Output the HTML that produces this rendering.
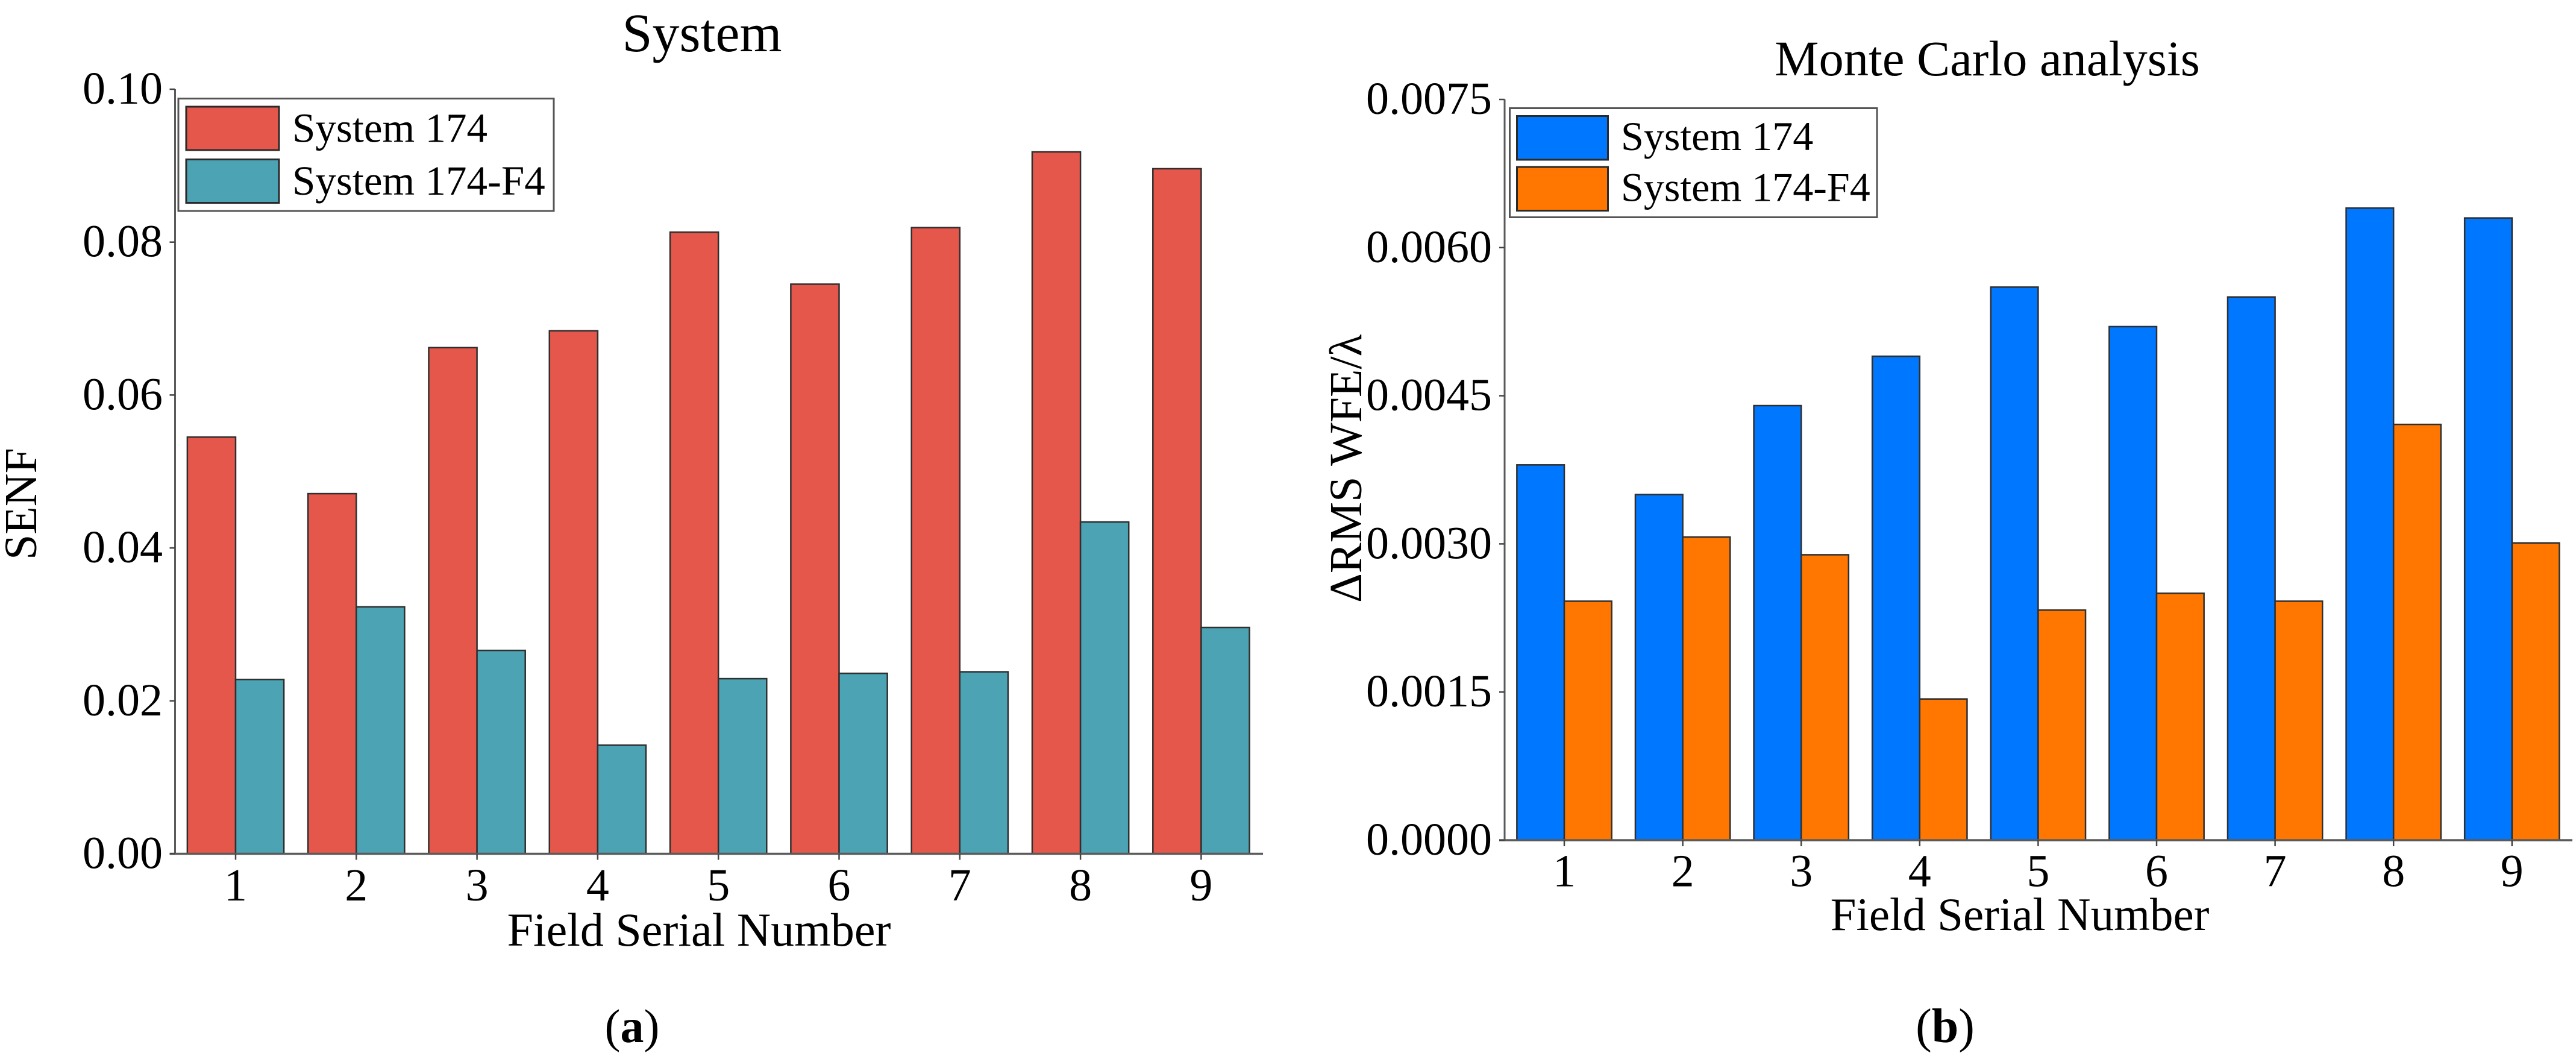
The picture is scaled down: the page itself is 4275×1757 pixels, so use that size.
<!DOCTYPE html>
<html lang="en">
<head>
<meta charset="utf-8">
<title>System and Monte Carlo analysis bar charts</title>
<style>
html,body{margin:0;padding:0;background:#fff;width:4275px;height:1757px;overflow:hidden}
svg{display:block}
text{font-family:"Liberation Serif","Times New Roman",serif;fill:#000}
</style>
</head>
<body>
<svg id="figure" xmlns="http://www.w3.org/2000/svg" width="4275" height="1757" viewBox="0 0 4275 1757">
  <rect x="0" y="0" width="4275" height="1757" fill="#ffffff"/>

  <g id="chart-a">
    <text x="1165" y="85" font-size="90" text-anchor="middle">System</text>
    <text transform="translate(60,836) rotate(-90)" font-size="76" text-anchor="middle">SENF</text>
    <text x="1160" y="1569" font-size="78" text-anchor="middle">Field Serial Number</text>
  </g>
  <text x="1049" y="1729" font-size="78" text-anchor="middle">(<tspan font-weight="bold">a</tspan>)</text>

  <g id="chart-b">
    <text x="3298" y="125" font-size="82.5" text-anchor="middle">Monte Carlo analysis</text>
    <text transform="translate(2259,1000) rotate(-90)" font-size="76" text-anchor="start">ΔRMS WFE/λ</text>
    <text x="3352" y="1543" font-size="77" text-anchor="middle">Field Serial Number</text>
  </g>
  <text x="3228" y="1729" font-size="80" text-anchor="middle">(<tspan font-weight="bold">b</tspan>)</text>
</svg>

<script>
// Shared categories
const fieldNumbers = ['1', '2', '3', '4', '5', '6', '7', '8', '9'];

// Chart (a): SENF
const senfTickValues = [0, 0.02, 0.04, 0.06, 0.08, 0.10];
const senfTickLabels = ['0.00', '0.02', '0.04', '0.06', '0.08', '0.10'];
const senfSystem174 = [0.0545, 0.0471, 0.0662, 0.0684, 0.0813, 0.0745, 0.0819, 0.0918, 0.0896];
const senfSystem174F4 = [0.0228, 0.0323, 0.0266, 0.0142, 0.0229, 0.0236, 0.0238, 0.0434, 0.0296];

// Chart (b): delta RMS WFE
const wfeTickValues = [0, 0.0015, 0.0030, 0.0045, 0.0060, 0.0075];
const wfeTickLabels = ['0.0000', '0.0015', '0.0030', '0.0045', '0.0060', '0.0075'];
const wfeSystem174 = [0.0038, 0.0035, 0.0044, 0.0049, 0.0056, 0.0052, 0.0055, 0.0064, 0.0063];
const wfeSystem174F4 = [0.00242, 0.00307, 0.00289, 0.00143, 0.00233, 0.0025, 0.00242, 0.00421, 0.00301];

const legendLabels = ['System 174', 'System 174-F4'];

const SVG_NS = 'http://www.w3.org/2000/svg';

function makeEl(parent, tag, name, attrs, text) {
  const el = document.createElementNS(SVG_NS, tag);
  
  
  for (const key in attrs) { el.setAttribute(key, attrs[key]); }
  if (text !== undefined) { el.textContent = text; }
  parent.appendChild(el);
  return el;
}

function drawBarChart(group, prefix, o) {
  const xScale = function (i) { return o.firstTickX + i * o.stepX; };
  const yScale = function (v) { return o.baseY - (v / o.maxValue) * (o.baseY - o.topY); };
  const barWidth = o.stepX * 0.4;

  // Bars
  fieldNumbers.forEach(function (field, i) {
    const tick = xScale(i);
    const y1 = yScale(o.seriesA[i]);
    const y2 = yScale(o.seriesB[i]);
    makeEl(group, 'rect', prefix + '-bar-system-174-field-' + field, {
      x: tick - barWidth, y: y1, width: barWidth, height: o.baseY - y1,
      fill: o.colorA, stroke: '#2f2f2f', 'stroke-width': 2.5
    });
    makeEl(group, 'rect', prefix + '-bar-system-174-f4-field-' + field, {
      x: tick, y: y2, width: barWidth, height: o.baseY - y2,
      fill: o.colorB, stroke: '#2f2f2f', 'stroke-width': 2.5
    });
  });

  // Axes
  makeEl(group, 'line', prefix + '-y-axis-line', {
    x1: o.axisX, x2: o.axisX, y1: o.topY, y2: o.baseY, stroke: '#5a5a5a', 'stroke-width': 3
  });
  makeEl(group, 'line', prefix + '-x-axis-line', {
    x1: o.axisX - 9, x2: o.axisEndX, y1: o.baseY, y2: o.baseY, stroke: '#5a5a5a', 'stroke-width': 3.5
  });

  // Y ticks
  o.yTicks.forEach(function (v, i) {
    const y = yScale(v);
    makeEl(group, 'line', prefix + '-y-tick-' + i, {
      x1: o.axisX - 9, x2: o.axisX, y1: y, y2: y, stroke: '#444444', 'stroke-width': 2.5
    });
    makeEl(group, 'text', prefix + '-y-tick-label-' + i, {
      x: o.yLabelRight, y: y + 24, 'font-size': 76, 'text-anchor': 'end'
    }, o.yLabels[i]);
  });

  // X ticks
  fieldNumbers.forEach(function (field, i) {
    const x = xScale(i);
    makeEl(group, 'line', prefix + '-x-tick-' + field, {
      x1: x, x2: x, y1: o.baseY, y2: o.baseY + 10, stroke: '#444444', 'stroke-width': 2.5
    });
    makeEl(group, 'text', prefix + '-x-tick-label-' + field, {
      x: x, y: o.xLabelY, 'font-size': 76, 'text-anchor': 'middle'
    }, field);
  });

  // Legend
  makeEl(group, 'rect', prefix + '-legend-box', {
    x: o.legendX, y: o.legendY, width: o.legendW, height: o.legendH,
    fill: '#ffffff', stroke: '#555555', 'stroke-width': 3
  });
  [o.colorA, o.colorB].forEach(function (color, i) {
    const rowY = o.swatchY + i * o.legendRowStep;
    makeEl(group, 'rect', prefix + '-legend-swatch-' + i, {
      x: o.swatchX, y: rowY, width: o.swatchW, height: o.swatchH,
      fill: color, stroke: '#2a2a2a', 'stroke-width': 3
    });
    makeEl(group, 'text', prefix + '-legend-label-' + i, {
      x: o.legendTextX, y: o.legendTextY + i * o.legendRowStep, 'font-size': o.legendFont
    }, legendLabels[i]);
  });
}

drawBarChart(document.getElementById('chart-a'), 'chart-a', {
  firstTickX: 391, stepX: 200.3, baseY: 1416.5, topY: 148, maxValue: 0.10,
  axisX: 290.5, axisEndX: 2096, yLabelRight: 270, xLabelY: 1494,
  yTicks: senfTickValues, yLabels: senfTickLabels,
  seriesA: senfSystem174, seriesB: senfSystem174F4,
  colorA: '#E5574A', colorB: '#4BA3B4',
  legendX: 296, legendY: 163.5, legendW: 623, legendH: 186.5,
  swatchX: 309, swatchY: 177, swatchW: 154, swatchH: 72, legendRowStep: 87.5,
  legendTextX: 485, legendTextY: 235.7, legendFont: 69
});

drawBarChart(document.getElementById('chart-b'), 'chart-b', {
  firstTickX: 2596, stepX: 196.6, baseY: 1394, topY: 165, maxValue: 0.0075,
  axisX: 2497, axisEndX: 4269, yLabelRight: 2476, xLabelY: 1470.7,
  yTicks: wfeTickValues, yLabels: wfeTickLabels,
  seriesA: wfeSystem174, seriesB: wfeSystem174F4,
  colorA: '#0077FF', colorB: '#FF7700',
  legendX: 2505.5, legendY: 179.5, legendW: 609.5, legendH: 181,
  swatchX: 2517.5, swatchY: 192.5, swatchW: 151, swatchH: 72.5, legendRowStep: 84.5,
  legendTextX: 2690, legendTextY: 249, legendFont: 68
});
</script>
</body>
</html>
